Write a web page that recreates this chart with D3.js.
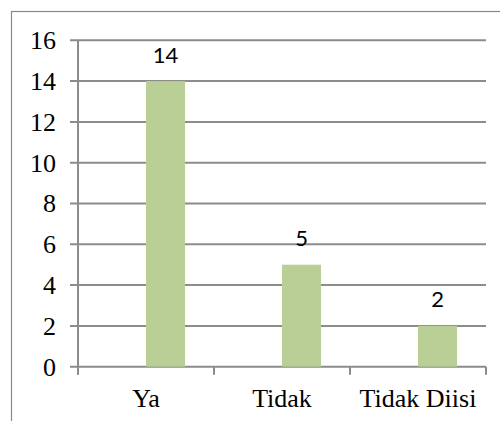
<!DOCTYPE html>
<html><head><meta charset="utf-8">
<script src="https://cdn.jsdelivr.net/npm/d3@7"></script>
<style>html,body{margin:0;padding:0;background:#fff;}svg{display:block;}
.serif{font-family:'Liberation Serif','Times New Roman','DejaVu Serif',serif;}
.sans{font-family:'Lato','Open Sans',sans-serif;}
</style>
</head><body>
<svg id="c" width="500" height="421"></svg>
<script>
const categories = ["Ya", "Tidak", "Tidak Diisi"];
const values = [14, 5, 2];
const yTicks = [0, 2, 4, 6, 8, 10, 12, 14, 16];

const svg = d3.select("#c");
const gridColor = "#8c8c8c";
const m = {left: 78, right: 486, top: 40.3, bottom: 366.7};

// outer frame
svg.append("rect").attr("x", 11.5).attr("y", 11.5).attr("width", 520).attr("height", 440)
  .attr("fill", "none").attr("stroke", "#8a8a8a").attr("stroke-width", 1.2);

const x = d3.scaleBand().domain(categories).range([m.left, m.right]).padding(0);
const y = d3.scaleLinear().domain([0, 16]).range([m.bottom, m.top]);

// gridlines
svg.append("g").selectAll("line").data(yTicks).join("line")
  .attr("x1", m.left - 8).attr("x2", m.right)
  .attr("y1", d => y(d)).attr("y2", d => y(d))
  .attr("stroke", gridColor).attr("stroke-width", 2);

// y axis line
svg.append("line").attr("x1", m.left).attr("x2", m.left)
  .attr("y1", m.top).attr("y2", m.bottom + 8)
  .attr("stroke", gridColor).attr("stroke-width", 2);

// x axis tick marks
const bounds = categories.map(c => x(c)).concat([x(categories[categories.length-1]) + x.bandwidth()]);
svg.append("g").selectAll("line").data(bounds).join("line")
  .attr("x1", d => d).attr("x2", d => d)
  .attr("y1", m.bottom).attr("y2", m.bottom + 8)
  .attr("stroke", gridColor).attr("stroke-width", 2);

// y tick labels
svg.append("g").selectAll("text").data(yTicks).join("text")
  .attr("class", "serif")
  .attr("x", 56).attr("y", d => y(d)).attr("dy", "0.34em")
  .attr("text-anchor", "end")
  .attr("font-size", 26).attr("fill", "#000")
  .text(d => d);

// bars
const barW = x.bandwidth() * 0.287;
svg.append("g").selectAll("rect").data(values).join("rect")
  .attr("x", (d, i) => x(categories[i]) + x.bandwidth() / 2)
  .attr("y", d => y(d))
  .attr("width", barW)
  .attr("height", d => y(0) - y(d))
  .attr("fill", "#b9cf95");

// value labels
svg.append("g").selectAll("text").data(values).join("text")
  .attr("class", "sans")
  .attr("x", (d, i) => x(categories[i]) + x.bandwidth() / 2 + barW / 2)
  .attr("y", d => y(d) - 18.5)
  .attr("text-anchor", "middle")
  .attr("font-size", 22).attr("fill", "#000")
  .text(d => d);

// category labels
svg.append("g").selectAll("text").data(categories).join("text")
  .attr("class", "serif")
  .attr("x", d => x(d) + x.bandwidth() / 2)
  .attr("y", 407)
  .attr("text-anchor", "middle")
  .attr("font-size", 26).attr("fill", "#000")
  .text(d => d);
</script>
</body></html>
